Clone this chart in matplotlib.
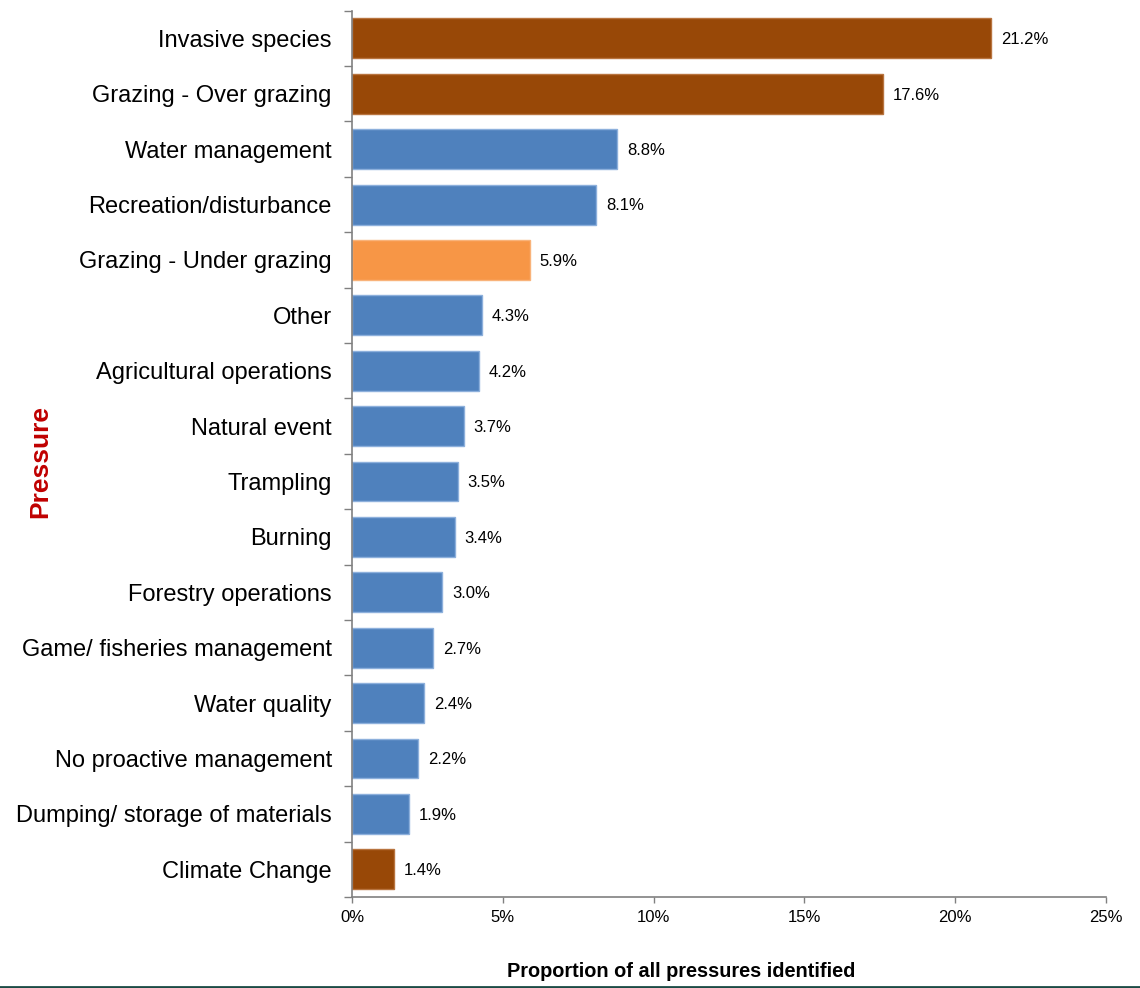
import matplotlib
matplotlib.use("Agg")
import matplotlib.pyplot as plt
from matplotlib.ticker import FixedLocator, FuncFormatter
from matplotlib.lines import Line2D

categories = ["Invasive species", "Grazing - Over grazing", "Water management",
              "Recreation/disturbance", "Grazing - Under grazing", "Other",
              "Agricultural operations", "Natural event", "Trampling", "Burning",
              "Forestry operations", "Game/ fisheries management", "Water quality",
              "No proactive management", "Dumping/ storage of materials", "Climate Change"]
values = [21.2, 17.6, 8.8, 8.1, 5.9, 4.3, 4.2, 3.7, 3.5, 3.4, 3.0, 2.7, 2.4, 2.2, 1.9, 1.4]
groups = ["brown", "brown", "blue", "blue", "orange", "blue", "blue", "blue", "blue",
          "blue", "blue", "blue", "blue", "blue", "blue", "brown"]
xticks = [0, 5, 10, 15, 20, 25]

palette = {"brown": "#984807", "blue": "#4F81BD", "orange": "#F79646"}
edges = {"brown": "#B8743F", "blue": "#8DB0DC", "orange": "#F9B37A"}

plt.rcParams['font.family'] = ['Liberation Sans', 'DejaVu Sans']

fig = plt.figure(figsize=(11.4, 9.88), dpi=100)
ax = fig.add_axes([352/1140, 1 - 897/988, (1106 - 352)/1140, (897 - 10.7)/988])

ypos = list(range(len(categories)))
ax.barh(ypos, values, height=0.72,
        color=[palette[g] for g in groups],
        edgecolor=[edges[g] for g in groups], linewidth=1.0)

for y, v in zip(ypos, values):
    ax.annotate(f"{v:.1f}%", (v, y), xytext=(7, -1), textcoords="offset points",
                va="center", ha="left", fontsize=12, color="#000000")

ax.set_ylim(len(categories) - 0.5, -0.5)
ax.set_xlim(0, 25)

ax.set_yticks(ypos)
ax.set_yticklabels(categories, fontsize=17)
ax.yaxis.set_minor_locator(FixedLocator([i - 0.5 for i in range(len(categories) + 1)]))
ax.tick_params(axis='y', which='major', length=0, pad=14.5)
ax.tick_params(axis='y', which='minor', length=5.5, width=1, color="#808080")

ax.set_xticks(xticks)
ax.xaxis.set_major_formatter(FuncFormatter(lambda x, p: f"{int(x)}%"))
ax.tick_params(axis='x', which='major', length=4.5, width=1, color="#808080",
               labelsize=12, pad=5)

for s in ["top", "right"]:
    ax.spines[s].set_visible(False)
for s in ["left", "bottom"]:
    ax.spines[s].set_color("#808080")
    ax.spines[s].set_linewidth(1.2)

fig.text(681/1140, 1 - 971/988, "Proportion of all pressures identified",
         ha="center", va="center", fontsize=14.3, fontweight="bold")
fig.text(40/1140, 1 - 461/988, "Pressure", ha="center", va="center",
         rotation=90, fontsize=19, fontweight="bold", color="#C00000")

fig.add_artist(Line2D([0, 1], [1.5/988, 1.5/988], transform=fig.transFigure,
                      color="#1B4B45", linewidth=2))

fig.savefig("out.png", dpi=100)
